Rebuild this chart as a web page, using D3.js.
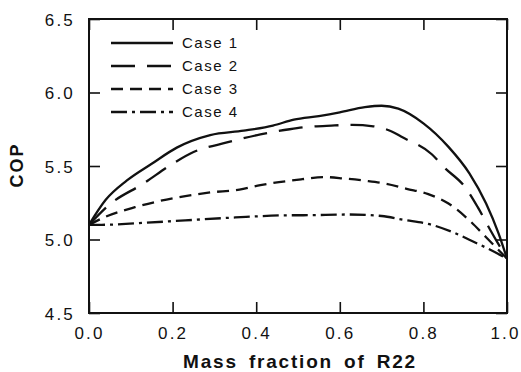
<!DOCTYPE html>
<html>
<head>
<meta charset="utf-8">
<script src="https://cdn.jsdelivr.net/npm/d3@7"></script>
<style>
  html, body { margin: 0; padding: 0; background: #fff; }
  svg { display: block; font-family: "Liberation Sans", Arial, Helvetica, sans-serif; }
</style>
</head>
<body>
<svg id="chart" width="521" height="372"></svg>
<script>
// COP versus mass fraction of R22 for four cases
const xTicks = [0.0, 0.2, 0.4, 0.6, 0.8, 1.0];
const yTicks = [4.5, 5.0, 5.5, 6.0, 6.5];

const case1X = [0, 0.04, 0.09, 0.15, 0.21, 0.29, 0.37, 0.44, 0.49, 0.55, 0.60, 0.66, 0.70, 0.74, 0.80, 0.86, 0.91, 0.95, 0.98, 1.0];
const case1Y = [5.10, 5.27, 5.40, 5.515, 5.625, 5.71, 5.74, 5.775, 5.815, 5.84, 5.865, 5.90, 5.91, 5.89, 5.79, 5.63, 5.45, 5.245, 5.04, 4.87];

const case2X = [0, 0.05, 0.13, 0.20, 0.25, 0.33, 0.41, 0.48, 0.52, 0.58, 0.63, 0.68, 0.72, 0.75, 0.82, 0.85, 0.90, 0.93, 0.96, 1.0];
const case2Y = [5.10, 5.24, 5.38, 5.515, 5.595, 5.66, 5.715, 5.75, 5.765, 5.775, 5.78, 5.77, 5.74, 5.695, 5.58, 5.49, 5.355, 5.22, 5.065, 4.87];

const case3X = [0, 0.04, 0.11, 0.20, 0.29, 0.36, 0.41, 0.48, 0.51, 0.56, 0.61, 0.66, 0.71, 0.76, 0.81, 0.86, 0.91, 0.95, 1.0];
const case3Y = [5.10, 5.155, 5.22, 5.28, 5.32, 5.34, 5.37, 5.40, 5.41, 5.425, 5.415, 5.40, 5.38, 5.345, 5.31, 5.245, 5.13, 5.015, 4.87];

const case4X = [0, 0.03, 0.11, 0.23, 0.35, 0.49, 0.51, 0.62, 0.70, 0.75, 0.82, 0.87, 0.92, 0.96, 1.0];
const case4Y = [5.10, 5.10, 5.11, 5.13, 5.15, 5.165, 5.165, 5.17, 5.16, 5.135, 5.10, 5.05, 4.985, 4.93, 4.87];

const seriesNames = ["Case 1", "Case 2", "Case 3", "Case 4"];
const dashes = [null, "24,12", "12,7", "16,5,3,5"];

const series = [
  [case1X, case1Y], [case2X, case2Y], [case3X, case3Y], [case4X, case4Y]
].map(([xs, ys], i) => ({
  name: seriesNames[i],
  dash: dashes[i],
  points: xs.map((x, j) => ({ x, y: ys[j] }))
}));

const svg = d3.select("#chart");
const plotLeft = 89, plotRight = 507, plotTop = 19, plotBottom = 313;

const x = d3.scaleLinear().domain([0, 1]).range([plotLeft, plotRight]);
const y = d3.scaleLinear().domain([4.5, 6.5]).range([plotBottom, plotTop]);

const tickFont = 17, tickSpacing = "2.2px";

// bottom axis with labels
const gx = svg.append("g").attr("transform", `translate(0,${plotBottom})`)
  .call(d3.axisBottom(x).tickValues(xTicks).tickFormat(d3.format(".1f")).tickSize(-11).tickPadding(14));
// left axis with labels
const gy = svg.append("g").attr("transform", `translate(${plotLeft},0)`)
  .call(d3.axisLeft(y).tickValues(yTicks).tickFormat(d3.format(".1f")).tickSize(-11).tickPadding(14));
// top and right ticks only
const gt = svg.append("g").attr("transform", `translate(0,${plotTop})`)
  .call(d3.axisTop(x).tickValues(xTicks).tickFormat("").tickSize(-11));
const gr = svg.append("g").attr("transform", `translate(${plotRight},0)`)
  .call(d3.axisRight(y).tickValues(yTicks).tickFormat("").tickSize(-11));

[gx, gy, gt, gr].forEach(g => {
  g.select(".domain").remove();
  g.selectAll(".tick line").attr("stroke", "#111").attr("stroke-width", 1.6);
  g.selectAll(".tick text")
    .attr("fill", "#111")
    .style("font-size", tickFont + "px")
    .style("letter-spacing", tickSpacing);
});
gy.selectAll(".tick text").attr("dy", "0.36em");
// keep the last x label inside the page edge
gx.selectAll(".tick text").filter(d => d === 1).attr("dx", "-2px");

// plot frame
svg.append("rect")
  .attr("x", plotLeft).attr("y", plotTop)
  .attr("width", plotRight - plotLeft).attr("height", plotBottom - plotTop)
  .attr("fill", "none").attr("stroke", "#111").attr("stroke-width", 2);

// curves
const line = d3.line().x(d => x(d.x)).y(d => y(d.y)).curve(d3.curveMonotoneX);
svg.append("g").selectAll("path").data(series).join("path")
  .attr("d", d => line(d.points))
  .attr("fill", "none")
  .attr("stroke", "#111")
  .attr("stroke-width", 2.3)
  .attr("stroke-dasharray", d => d.dash);

// legend
const legend = svg.append("g");
const legendRows = [43, 66, 89, 112];
series.forEach((s, i) => {
  legend.append("line")
    .attr("x1", 111).attr("x2", 173)
    .attr("y1", legendRows[i]).attr("y2", legendRows[i])
    .attr("stroke", "#111").attr("stroke-width", 2.3)
    .attr("stroke-dasharray", s.dash);
  legend.append("text")
    .attr("x", 182).attr("y", legendRows[i]).attr("dy", "0.36em")
    .attr("fill", "#111")
    .style("font-size", "15px").style("letter-spacing", "1.5px")
    .text(s.name);
});

// axis titles
svg.append("text")
  .attr("x", (plotLeft + plotRight) / 2 + 2).attr("y", 368)
  .attr("text-anchor", "middle").attr("fill", "#111")
  .style("font-size", "19px").style("font-weight", "bold")
  .style("letter-spacing", "1.8px").style("word-spacing", "4px")
  .text("Mass fraction of R22");

svg.append("text")
  .attr("transform", "translate(23,165) rotate(-90)")
  .attr("text-anchor", "middle").attr("fill", "#111")
  .style("font-size", "18px").style("font-weight", "bold")
  .style("letter-spacing", "2px")
  .text("COP");
</script>
</body>
</html>
